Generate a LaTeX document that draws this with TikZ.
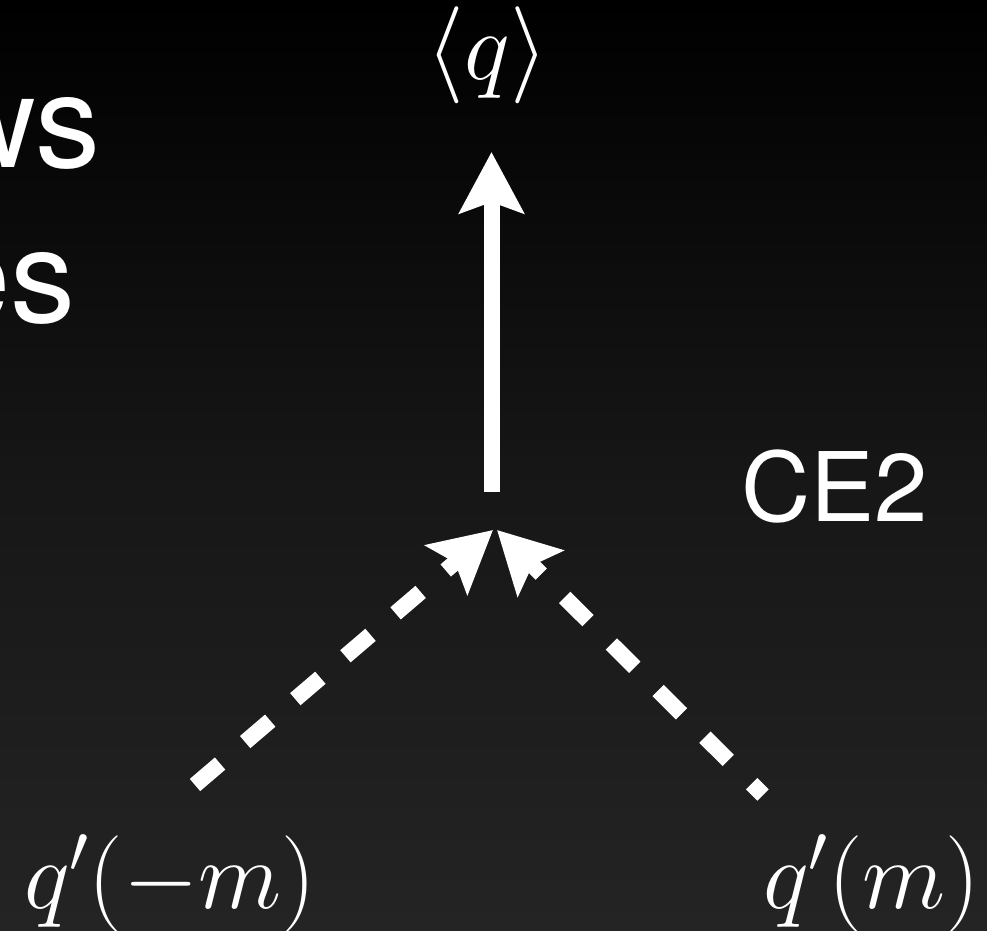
\RequirePackage{fix-cm}
\documentclass[tikz,border=0pt]{standalone}
\usepackage{fontspec}
\newfontfamily\heros{TeX Gyre Heros}
\usetikzlibrary{arrows.meta}
\definecolor{bgtop}{RGB}{0,0,0}
\definecolor{bgmid}{RGB}{22,22,22}
\definecolor{bgbot}{RGB}{36,36,36}
\begin{document}
\begin{tikzpicture}[x=1pt,y=-1pt,
  lbl/.style={text=white, inner sep=0pt, font=\fontsize{97}{100}\selectfont},
  side/.style={text=white, inner sep=0pt, font=\heros\fontsize{130}{150}\selectfont},
  ce/.style={text=white, inner sep=0pt, font=\heros\fontsize{96}{110}\selectfont},
  tipS/.tip={Stealth[length=61pt,width=64pt,inset=11pt]},
  solidarrow/.style={draw=white, line width=16pt, -tipS},
  dasharrow/.style={draw=white, line width=16pt, -tipS, dash pattern=on 33pt off 33pt}]
\useasboundingbox (0,0) rectangle (987,930);
\shade[top color=bgtop, bottom color=bgbot, middle color=bgmid] (0,0) rectangle (987,930);
\clip (0,0) rectangle (987,930);
\node[side, anchor=base east] (ws) at (101,167) {ws};
\node[side, anchor=base east] (es) at (76,322) {es};
\node[lbl, anchor=base] (q) at (487.5,79) {$\langle q\rangle$};
\node[lbl, anchor=base] (qm) at (170,908) {$q'(-m)$};
\node[lbl, anchor=base] (qp) at (871.5,908) {$q'(m)$};
\node[ce, anchor=base] (ce) at (834.5,521) {CE2};
\coordinate (vbot) at (491.5,492);
\coordinate (vtip) at (491.5,152);
\coordinate (lstart) at (195,785);
\coordinate (ltip) at (493,530);
\coordinate (rstart) at (763,795);
\coordinate (rtip) at (497,530);
\draw[solidarrow] (vbot) -- (vtip);
\draw[dasharrow] (lstart) -- (ltip);
\draw[dasharrow, dash phase=17pt] (rstart) -- (rtip);
\end{tikzpicture}
\end{document}
